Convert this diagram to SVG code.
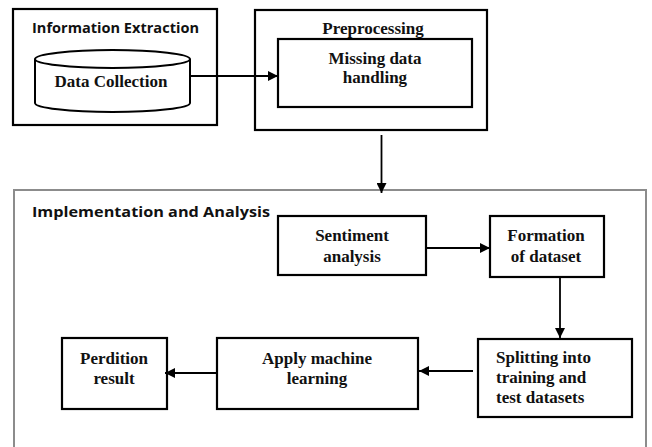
<svg xmlns="http://www.w3.org/2000/svg" width="652" height="447" viewBox="0 0 652 447">
<defs>
<style>
.box{fill:#fff;stroke:#000;stroke-width:2.2}
.outer{fill:none;stroke:#000;stroke-width:2.2}
.gray{fill:none;stroke:#8c8c8c;stroke-width:2}
.ser{font-family:'Liberation Serif','DejaVu Serif',serif;font-weight:700;font-size:17px;fill:#111;text-anchor:middle}
.serl{font-family:'Liberation Serif','DejaVu Serif',serif;font-weight:700;font-size:17px;fill:#111}
.sans{font-family:'Open Sans','Liberation Sans',sans-serif;font-weight:700;font-size:14px;fill:#111}
.conn{stroke:#000;stroke-width:1.8;fill:none}
</style>
<marker id="ah" viewBox="0 0 10 10" refX="10" refY="5" markerWidth="10" markerHeight="10" markerUnits="userSpaceOnUse" orient="auto">
<path d="M0,0 L10,5 L0,10 z" fill="#000"/>
</marker>
</defs>
<rect width="652" height="447" fill="#fff"/>

<g id="information-extraction">
<rect class="outer" x="13" y="9" width="204" height="116"/>
<text class="sans" x="32" y="33" textLength="167" lengthAdjust="spacingAndGlyphs">Information Extraction</text>
</g>
<g id="data-collection">
<path d="M35,59 L35,103 A77.5,9 0 0 0 190,103 L190,59" fill="#fff" stroke="#000" stroke-width="2"/>
<ellipse cx="112.5" cy="59" rx="77.5" ry="9" fill="#fff" stroke="#000" stroke-width="2"/>
<text class="ser" x="111" y="87">Data Collection</text>
</g>

<g id="preprocessing">
<rect class="outer" x="255" y="10" width="232" height="120"/>
<text class="ser" x="373" y="34">Preprocessing</text>
</g>
<g id="missing-data">
<rect class="box" x="278" y="39" width="194" height="68"/>
<text class="ser" x="375" y="64">Missing data</text>
<text class="ser" x="375" y="83">handling</text>
</g>

<g id="implementation">
<rect class="gray" x="14" y="190" width="632" height="270"/>
<text class="sans" x="32" y="217" textLength="238" lengthAdjust="spacingAndGlyphs">Implementation and Analysis</text>
</g>
<g id="sentiment">
<rect class="box" x="278" y="216" width="148" height="59"/>
<text class="ser" x="352" y="241">Sentiment</text>
<text class="ser" x="352" y="262">analysis</text>
</g>
<g id="formation">
<rect class="box" x="490" y="216" width="114" height="61"/>
<text class="ser" x="546" y="241">Formation</text>
<text class="ser" x="546" y="262">of dataset</text>
</g>
<g id="splitting">
<rect class="box" x="478" y="339" width="154" height="78"/>
<text class="serl" x="496" y="363">Splitting into</text>
<text class="serl" x="496" y="383">training and</text>
<text class="serl" x="496" y="403">test datasets</text>
</g>
<g id="apply-ml">
<rect class="box" x="217" y="338" width="201" height="71"/>
<text class="ser" x="317" y="364">Apply machine</text>
<text class="ser" x="317" y="384">learning</text>
</g>
<g id="perdition">
<rect class="box" x="62" y="338" width="105" height="71"/>
<text class="ser" x="114" y="364">Perdition</text>
<text class="ser" x="114" y="384">result</text>
</g>

<g id="connectors">
<line class="conn" x1="190" y1="76" x2="278" y2="76" marker-end="url(#ah)"/>
<line class="conn" x1="381.5" y1="135" x2="381.5" y2="193" stroke="#333" marker-end="url(#ah)"/>
<line class="conn" x1="426" y1="248" x2="490" y2="248" marker-end="url(#ah)"/>
<line class="conn" x1="560" y1="277" x2="560" y2="338" marker-end="url(#ah)"/>
<line class="conn" x1="473" y1="371" x2="419" y2="371" marker-end="url(#ah)"/>
<line class="conn" x1="217" y1="373" x2="165" y2="373" marker-end="url(#ah)"/>
</g>
</svg>
